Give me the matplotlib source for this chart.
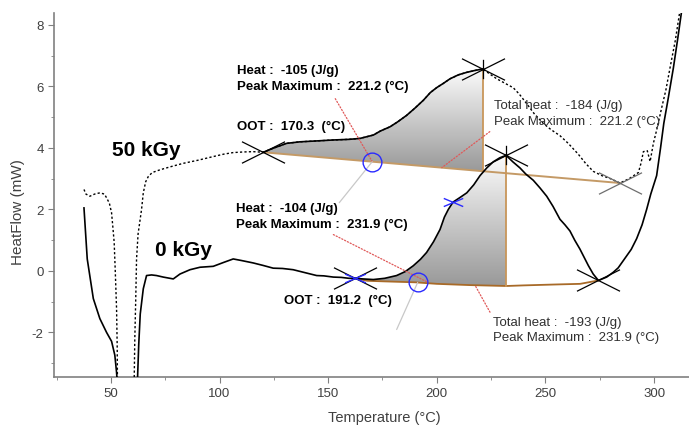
import numpy as np
import matplotlib.pyplot as plt
from matplotlib.path import Path
from matplotlib.patches import Polygon
from matplotlib.colors import LinearSegmentedColormap

plt.rcParams["font.family"] = ["Liberation Sans", "DejaVu Sans"]
plt.rcParams["axes.unicode_minus"] = False

# 0 kGy DSC trace (solid), NaN where the trace leaves the plot
temp_0kgy = [37.6, 39.1, 41.9, 44.9, 48.0, 50.3, 51.8, 52.6, 52.9, np.nan,
             62.2, 62.8, 63.5, 64.9, 66.4, 68.7, 71.0, 74.1, 78.7, 81.8, 86.4, 91.0,
             97.1, 102.0, 106.3, 110.0, 115.5, 120.0, 124.7, 129.0, 133.9, 139.0,
             144.7, 148.0, 152.4, 156.0, 159.6, 162.3, 166.0, 170.8, 176.0, 181.5,
             185.5, 189.2, 192.5, 195.3, 198.5, 201.5, 203.5, 205.3, 207.5, 210.5,
             213.8, 217.0, 219.9, 223.0, 226.0, 229.0, 231.9, 235.0, 238.3, 241.0,
             244.4, 247.5, 250.6, 253.5, 256.7, 259.0, 261.3, 263.5, 265.9, 269.8,
             272.0, 274.4, 278.2, 281.3, 283.5, 287.0, 289.5, 292.0, 294.5, 296.6,
             298.5, 301.2, 303.0, 304.5, 306.5, 308.9, 311.0, 312.8]
hf_0kgy = [2.05, 0.39, -0.90, -1.55, -2.00, -2.29, -2.74, -3.30, -3.60, np.nan,
           -3.60, -2.40, -1.40, -0.58, -0.15, -0.13, -0.15, -0.20, -0.26, -0.10, 0.04, 0.12,
           0.15, 0.28, 0.39, 0.34, 0.26, 0.18, 0.09, 0.08, 0.04, -0.05,
           -0.15, -0.16, -0.20, -0.21, -0.24, -0.24, -0.26, -0.28, -0.24, -0.15,
           -0.02, 0.17, 0.38, 0.60, 0.95, 1.35, 1.75, 2.00, 2.24, 2.38,
           2.54, 2.80, 3.10, 3.35, 3.55, 3.68, 3.76, 3.55, 3.35, 3.15,
           2.95, 2.70, 2.43, 2.10, 1.68, 1.50, 1.30, 1.00, 0.71, 0.17,
           -0.10, -0.31, -0.20, -0.04, 0.10, 0.45, 0.70, 1.05, 1.50, 2.00,
           2.50, 3.10, 4.00, 4.80, 5.60, 6.60, 7.60, 8.50]

# 50 kGy DSC trace (dotted)
temp_50kgy = [37.6, 38.5, 40.3, 42.5, 44.9, 47.0, 48.0, 49.3, 50.3, 50.8, 51.5, 52.0,
              52.6, 52.9, 53.0, np.nan,
              60.7, 61.0, 61.4, 61.8, 62.5, 64.1, 64.9, 66.0, 67.2, 69.0, 72.6, 78.0,
              83.3, 90.0, 97.1, 102.0, 106.3, 111.0, 115.5, 120.1, 125.0, 130.9, 137.0,
              145.0, 152.4, 159.6, 164.6, 170.8, 174.0, 178.5, 182.0, 186.1, 190.0,
              193.8, 197.0, 199.9, 203.0, 206.1, 210.0, 213.8, 217.5, 221.2, 224.5,
              227.6, 231.5, 235.2, 238.0, 241.4, 245.0, 249.0, 252.5, 256.7, 260.5,
              265.1, 268.5, 272.0, 276.0, 280.0, 284.3, 288.5, 292.8, 294.0, 295.1,
              296.9, 298.2, 299.7, 301.2, 303.5, 305.5, 307.4, 309.8, 312.0]
hf_50kgy = [2.65, 2.50, 2.43, 2.50, 2.54, 2.50, 2.38, 2.20, 1.89, 1.50, 0.93, 0.00,
            -1.23, -2.50, -3.60, np.nan,
            -3.60, -2.19, -1.00, 0.39, 1.20, 2.00, 2.54, 2.90, 3.07, 3.20, 3.29, 3.40,
            3.50, 3.60, 3.72, 3.80, 3.85, 3.87, 3.88, 3.86, 4.00, 4.15, 4.20,
            4.23, 4.26, 4.28, 4.31, 4.42, 4.55, 4.69, 4.85, 5.06, 5.30,
            5.55, 5.80, 5.96, 6.10, 6.25, 6.38, 6.46, 6.52, 6.57, 6.40,
            6.25, 6.10, 5.96, 5.75, 5.44, 5.10, 4.80, 4.60, 4.40, 4.15,
            3.80, 3.50, 3.24, 3.10, 3.00, 2.86, 3.00, 3.20, 3.50, 3.88,
            3.91, 3.56, 4.15, 4.58, 5.30, 5.90, 6.62, 7.50, 8.50]

# Integration baseline for 0 kGy (as drawn by the instrument software)
base_temp_0kgy = [162.3, 168.0, 176.0, 190.0, 200.0, 215.0, 231.9, 240.0, 255.0, 266.0, 274.4]
base_hf_0kgy = [-0.24, -0.32, -0.34, -0.37, -0.42, -0.46, -0.49, -0.47, -0.44, -0.42, -0.31]

# Peak evaluation points: (temperature, heat flow)
onset_50kgy = (120.1, 3.86)
peak_50kgy = (221.2, 6.57)
end_50kgy = (284.3, 2.86)
oot_50kgy = 170.3

onset_0kgy = (162.3, -0.24)
peak_0kgy = (231.9, 3.76)
end_0kgy = (274.4, -0.31)
oot_0kgy = 191.2
inflection_0kgy = 207.5

# Labels
heat_50kgy, total_heat_50kgy = -105, -184
heat_0kgy, total_heat_0kgy = -104, -193


def gradient_fill(ax, xs, ys):
    # Vertical grey gradient clipped to the integrated peak area
    poly = Polygon(np.column_stack([xs, ys]), closed=True, facecolor="none", edgecolor="none")
    ax.add_patch(poly)
    cmap = LinearSegmentedColormap.from_list("peak", ["#999999", "#fcfcfc"])
    grad = np.linspace(0, 1, 256).reshape(-1, 1)
    img = ax.imshow(grad, cmap=cmap, aspect="auto", origin="lower",
                    extent=[min(xs), max(xs), min(ys), max(ys)], zorder=1)
    img.set_clip_path(poly)


def peak_area(temp, hf, onset, peak, base_t, base_y):
    # Curve from onset to peak, then back along the baseline
    t = np.array(temp, dtype=float)
    y = np.array(hf, dtype=float)
    m = (t >= onset[0]) & (t <= peak[0])
    bt = np.array(base_t)
    inner = (bt > onset[0]) & (bt < peak[0])
    xs = list(t[m]) + [peak[0]] + list(bt[inner][::-1]) + [onset[0]]
    ys = list(y[m]) + [np.interp(peak[0], base_t, base_y)] + \
        list(np.array(base_y)[inner][::-1]) + [np.interp(onset[0], base_t, base_y)]
    return xs, ys


# Marker shapes (flattened crosses as drawn by the DSC software)
MV, LN = Path.MOVETO, Path.LINETO
cross = Path([(-1, -0.5), (1, 0.5), (-1, 0.5), (1, -0.5)], [MV, LN, MV, LN])
peak_cross = Path([(-1, -0.5), (1, 0.5), (-1, 0.5), (1, -0.5), (0, -0.45), (0, 0.45)],
                  [MV, LN, MV, LN, MV, LN])
small_cross = Path([(-1, -0.42), (1, 0.42), (-1, 0.42), (1, -0.42)], [MV, LN, MV, LN])

fig = plt.figure(figsize=(6.89, 4.27), dpi=100)
ax = fig.add_axes([54 / 689, 49 / 427, 635 / 689, 364 / 427])

base_color_50 = "#c49a66"
base_color_0 = "#a86a28"
vline_color = "#c8965a"
red = "#e05858"
blue = "#2a2aff"

# 50 kGy
base_t50 = [onset_50kgy[0], end_50kgy[0]]
base_y50 = [onset_50kgy[1], end_50kgy[1]]
xs, ys = peak_area(temp_50kgy, hf_50kgy, onset_50kgy, peak_50kgy, base_t50, base_y50)
gradient_fill(ax, xs, ys)
ax.plot(temp_50kgy, hf_50kgy, color="black", lw=1.0, ls=(0, (1.6, 1.6)), zorder=3)
t50 = np.array(temp_50kgy)
m50 = (t50 >= onset_50kgy[0]) & (t50 <= peak_50kgy[0])
ax.plot(t50[m50], np.array(hf_50kgy)[m50], color="black", lw=1.2, zorder=4)
ax.plot(base_t50, base_y50, color=base_color_50, lw=1.4, zorder=2)
b50_peak = np.interp(peak_50kgy[0], base_t50, base_y50)
ax.plot([peak_50kgy[0], peak_50kgy[0]], [b50_peak, peak_50kgy[1]], color=vline_color, lw=1.3, zorder=2)

# 0 kGy
xs, ys = peak_area(temp_0kgy, hf_0kgy, onset_0kgy, peak_0kgy, base_temp_0kgy, base_hf_0kgy)
gradient_fill(ax, xs, ys)
ax.plot(temp_0kgy, hf_0kgy, color="black", lw=1.2, zorder=4)
ax.plot(base_temp_0kgy, base_hf_0kgy, color=base_color_0, lw=1.3, zorder=2)
b0_peak = np.interp(peak_0kgy[0], base_temp_0kgy, base_hf_0kgy)
ax.plot([peak_0kgy[0], peak_0kgy[0]], [b0_peak, peak_0kgy[1]], color=vline_color, lw=1.3, zorder=2)

# Crosses
for pt, mk, col in [(onset_50kgy, cross, "black"), (peak_50kgy, peak_cross, "black"),
                    (end_50kgy, cross, "#6e6e6e"), (onset_0kgy, cross, "black"),
                    (peak_0kgy, peak_cross, "black"), (end_0kgy, cross, "black")]:
    ax.plot(pt[0], pt[1], marker=mk, ms=31, mec=col, mfc="none", mew=0.9, ls="none", zorder=5)

ax.plot(onset_0kgy[0], onset_0kgy[1], marker=small_cross, ms=15, mec=blue, mfc="none",
        mew=1.0, ls="none", zorder=6)
ax.plot(inflection_0kgy, np.interp(inflection_0kgy, temp_0kgy[10:], hf_0kgy[10:]),
        marker=small_cross, ms=14, mec=blue, mfc="none", mew=1.0, ls="none", zorder=6)

# OOT circles on the baseline
c50 = (oot_50kgy, np.interp(oot_50kgy, base_t50, base_y50))
c0 = (oot_0kgy, np.interp(oot_0kgy, base_temp_0kgy, base_hf_0kgy))
for c in (c50, c0):
    ax.plot(c[0], c[1], marker="o", ms=13.5, mec=blue, mfc="none", mew=1.0, ls="none", zorder=6)


# Leader lines
def leader(xy, off, color, ls):
    ax.annotate("", xy=xy, xytext=off, textcoords="offset pixels",
                arrowprops=dict(arrowstyle="-", color=color, lw=0.9, ls=ls,
                                shrinkA=0, shrinkB=0), zorder=5)


dots = (0, (1, 1.5))
leader(c50, (-37, 63), red, dots)
leader(c50, (-33, -41), "#c8c8c8", "-")
leader((202.3, np.interp(202.3, base_t50, base_y50)), (48, 36), red, dots)
leader((c0[0] + 4, c0[1] + 0.03), (-93, 47), red, dots)
leader(c0, (-21, -47), "#c8c8c8", "-")
leader((217.6, np.interp(217.6, base_temp_0kgy, base_hf_0kgy)), (15, -27), red, dots)

# Texts
fs = 9.5
ax.text(108.0, 6.55, f"Heat :  {heat_50kgy} (J/g)", fontsize=fs, fontweight="bold", va="center")
ax.text(108.0, 6.00, f"Peak Maximum :  {peak_50kgy[0]:.1f} (°C)", fontsize=fs, fontweight="bold", va="center")
ax.text(108.0, 4.71, f"OOT :  {oot_50kgy:.1f}  (°C)", fontsize=fs, fontweight="bold", va="center")
ax.text(50.5, 3.94, "50 kGy", fontsize=15, fontweight="bold", va="center")
ax.text(70.3, 0.71, "0 kGy", fontsize=15, fontweight="bold", va="center")
ax.text(107.6, 2.06, f"Heat :  {heat_0kgy} (J/g)", fontsize=fs, fontweight="bold", va="center")
ax.text(107.6, 1.53, f"Peak Maximum :  {peak_0kgy[0]:.1f} (°C)", fontsize=fs, fontweight="bold", va="center")
ax.text(129.7, -0.93, f"OOT :  {oot_0kgy:.1f}  (°C)", fontsize=fs, fontweight="bold", va="center")
ax.text(226.3, 5.40, f"Total heat :  {total_heat_50kgy} (J/g)", fontsize=fs, color="#303030", va="center")
ax.text(226.3, 4.88, f"Peak Maximum :  {peak_50kgy[0]:.1f} (°C)", fontsize=fs, color="#303030", va="center")
ax.text(226.0, -1.65, f"Total heat :  {total_heat_0kgy} (J/g)", fontsize=fs, color="#303030", va="center")
ax.text(226.0, -2.16, f"Peak Maximum :  {peak_0kgy[0]:.1f} (°C)", fontsize=fs, color="#303030", va="center")

# Axes
ax.set_xlim(23.8, 316.1)
ax.set_ylim(-3.45, 8.39)
ax.set_xticks(np.arange(50, 301, 50))
ax.set_xticks(np.arange(25, 300, 50), minor=True)
ax.set_yticks(np.arange(-2, 9, 2))
ax.set_yticks(np.arange(-3, 8, 2), minor=True)
ax.tick_params(which="both", direction="out", color="#808080", labelcolor="#404040", labelsize=9.5)
ax.tick_params(which="major", length=4)
ax.tick_params(which="minor", length=2)
for side in ("top", "right"):
    ax.spines[side].set_visible(False)
for side in ("left", "bottom"):
    ax.spines[side].set_color("#808080")
    ax.spines[side].set_linewidth(1.2)

ax.set_ylabel("HeatFlow (mW)", fontsize=11, color="#404040", va="center")
ax.yaxis.set_label_coords(-0.057, 0.456)
ax.set_xlabel("Temperature (°C)", fontsize=10.5, color="#404040", va="center")
ax.xaxis.set_label_coords(0.52, -0.11)

fig.savefig("out.png", dpi=100)
